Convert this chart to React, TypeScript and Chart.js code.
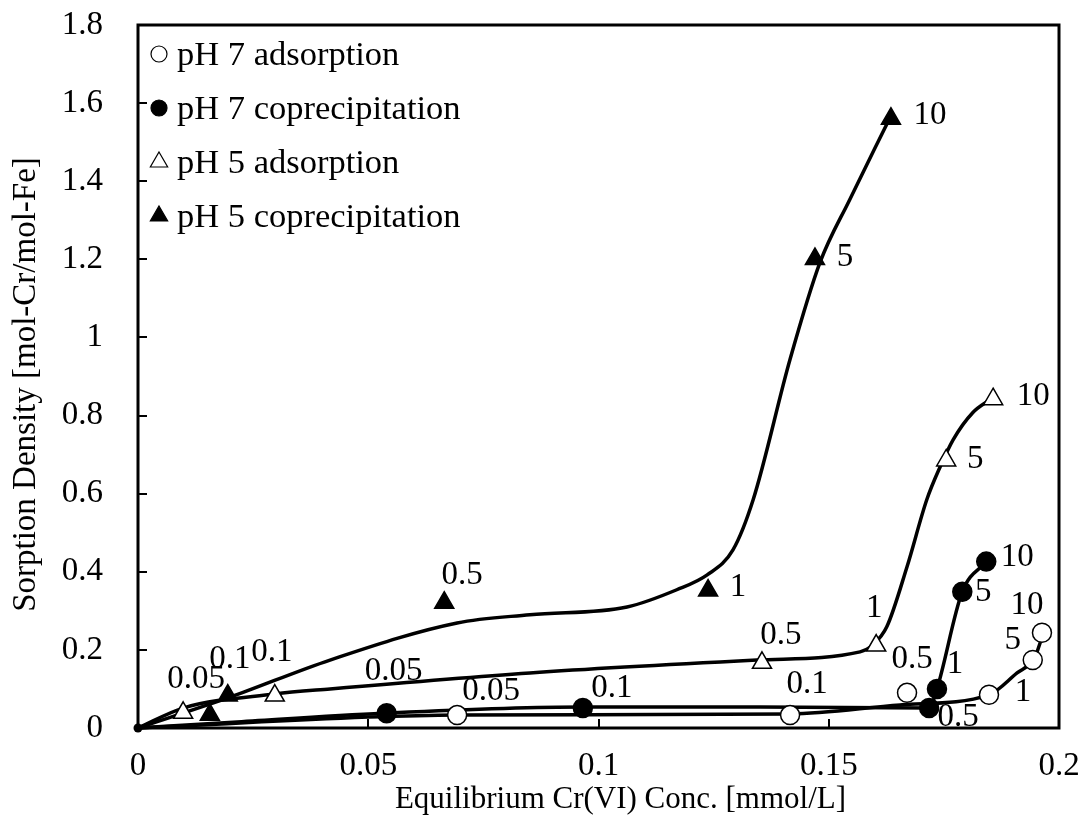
import React, { useEffect, useRef } from "react";
import { Chart, registerables } from "chart.js";

Chart.register(...registerables);

// ---------- axis ticks ----------
const X_TICKS = [0, 0.05, 0.1, 0.15, 0.2];
const X_TICK_LABELS = ["0", "0.05", "0.1", "0.15", "0.2"];
const Y_TICKS = [0, 0.2, 0.4, 0.6, 0.8, 1.0, 1.2, 1.4, 1.6, 1.8];
const Y_TICK_LABELS = ["0", "0.2", "0.4", "0.6", "0.8", "1", "1.2", "1.4", "1.6", "1.8"];

const X_TITLE = "Equilibrium Cr(VI) Conc. [mmol/L]";
const Y_TITLE = "Sorption Density [mol-Cr/mol-Fe]";

const SERIES_NAMES = [
  "pH 7 adsorption",
  "pH 7 coprecipitation",
  "pH 5 adsorption",
  "pH 5 coprecipitation",
];

// ---------- measured points ----------
const PH7_ADS_X = [0.0693, 0.1416, 0.167, 0.1848, 0.1943, 0.1963];
const PH7_ADS_Y = [0.033, 0.033, 0.09, 0.085, 0.174, 0.244];
const PH7_ADS_LABELS = ["0.05", "0.1", "0.5", "1", "5", "10"];

const PH7_COP_X = [0.054, 0.0966, 0.1718, 0.1735, 0.179, 0.1842];
const PH7_COP_Y = [0.038, 0.051, 0.051, 0.1, 0.349, 0.426];
const PH7_COP_LABELS = ["0.05", "0.1", "0.5", "1", "5", "10"];

const PH5_ADS_X = [0.0098, 0.0297, 0.1355, 0.1603, 0.1755, 0.1857];
const PH5_ADS_Y = [0.039, 0.083, 0.167, 0.211, 0.685, 0.842];
const PH5_ADS_LABELS = ["0.05", "0.1", "0.5", "1", "5", "10"];

const PH5_COP_X = [0.0156, 0.0195, 0.0665, 0.1238, 0.147, 0.1635];
const PH5_COP_Y = [0.034, 0.083, 0.321, 0.352, 1.201, 1.56];
const PH5_COP_LABELS = ["", "0.1", "0.5", "1", "5", "10"];

// ---------- hand-drawn guide curves ----------
const PH7_ADS_CURVE_X = [0, 0.0693, 0.1416, 0.1655, 0.1848, 0.1909, 0.1943, 0.1959, 0.1963];
const PH7_ADS_CURVE_Y = [0, 0.033, 0.036, 0.059, 0.085, 0.141, 0.174, 0.218, 0.244];

const PH7_COP_CURVE_X = [0, 0.0206, 0.0532, 0.0966, 0.1351, 0.1718, 0.1735, 0.179, 0.1842];
const PH7_COP_CURVE_Y = [0, 0.015, 0.038, 0.054, 0.054, 0.051, 0.1, 0.349, 0.426];

const PH5_ADS_CURVE_X = [0, 0.0098, 0.0297, 0.0417, 0.0851, 0.1344, 0.1568, 0.1596, 0.1626, 0.167, 0.1713, 0.1742, 0.177, 0.1813, 0.185];
const PH5_ADS_CURVE_Y = [0, 0.051, 0.087, 0.1, 0.141, 0.174, 0.195, 0.213, 0.259, 0.413, 0.585, 0.669, 0.738, 0.808, 0.841];

const PH5_COP_CURVE_X = [0, 0.02, 0.0417, 0.0693, 0.0851, 0.1062, 0.117, 0.1236, 0.1292, 0.1336, 0.1416, 0.1481, 0.1546, 0.1626];
const PH5_COP_CURVE_Y = [0, 0.079, 0.174, 0.269, 0.29, 0.31, 0.354, 0.392, 0.456, 0.585, 0.944, 1.192, 1.354, 1.546];

// ---------- label placement (pixel offsets from each point) ----------
const PH7_ADS_LABEL_DX = [34, 17, 5, 34, -20, -15];
const PH7_ADS_LABEL_DY = [-24, -31, -34, -2, -20, -27];
const PH7_COP_LABEL_DX = [7, 29, 29, 18, 21, 31];
const PH7_COP_LABEL_DY = [-42, -20, 9, -25, 1, -4];
const PH5_ADS_LABEL_DX = [13, -3, 19, -2, 29, 40];
const PH5_ADS_LABEL_DY = [-33, -43, -27, -37, -1, -3];
const PH5_COP_LABEL_DX = [0, 2, 18, 30, 30, 39];
const PH5_COP_LABEL_DY = [0, -36, -27, -3, -2, -3];

const FONT = '"Liberation Serif", "Times New Roman", serif';

const pts = (xs: number[], ys: number[]) => xs.map((x, i) => ({ x, y: ys[i] }));

type MarkerSeries = {
  name: string;
  x: number[];
  y: number[];
  labels: string[];
  dx: number[];
  dy: number[];
  style: "circle" | "triangle";
  filled: boolean;
};

const MARKERS: MarkerSeries[] = [
  { name: SERIES_NAMES[0], x: PH7_ADS_X, y: PH7_ADS_Y, labels: PH7_ADS_LABELS, dx: PH7_ADS_LABEL_DX, dy: PH7_ADS_LABEL_DY, style: "circle", filled: false },
  { name: SERIES_NAMES[1], x: PH7_COP_X, y: PH7_COP_Y, labels: PH7_COP_LABELS, dx: PH7_COP_LABEL_DX, dy: PH7_COP_LABEL_DY, style: "circle", filled: true },
  { name: SERIES_NAMES[2], x: PH5_ADS_X, y: PH5_ADS_Y, labels: PH5_ADS_LABELS, dx: PH5_ADS_LABEL_DX, dy: PH5_ADS_LABEL_DY, style: "triangle", filled: false },
  { name: SERIES_NAMES[3], x: PH5_COP_X, y: PH5_COP_Y, labels: PH5_COP_LABELS, dx: PH5_COP_LABEL_DX, dy: PH5_COP_LABEL_DY, style: "triangle", filled: true },
];

const decorPlugin = {
  id: "decor",
  afterDatasetsDraw(chart: any) {
    const { ctx, chartArea, scales } = chart;
    const xs = scales.x;
    const ys = scales.y;
    ctx.save();
    // point labels
    ctx.fillStyle = "#000";
    ctx.font = `33px ${FONT}`;
    ctx.textAlign = "center";
    ctx.textBaseline = "middle";
    MARKERS.forEach((s) => {
      s.x.forEach((xv, i) => {
        const t = s.labels[i];
        if (!t) return;
        ctx.fillText(t, xs.getPixelForValue(xv) + s.dx[i], ys.getPixelForValue(s.y[i]) + s.dy[i]);
      });
    });
    // frame
    ctx.strokeStyle = "#000";
    ctx.lineWidth = 3;
    ctx.strokeRect(chartArea.left, chartArea.top, chartArea.right - chartArea.left, chartArea.bottom - chartArea.top);
    // inward ticks
    ctx.lineWidth = 2;
    ctx.beginPath();
    Y_TICKS.forEach((v) => {
      const py = Math.round(ys.getPixelForValue(v));
      ctx.moveTo(chartArea.left, py);
      ctx.lineTo(chartArea.left + 9, py);
    });
    X_TICKS.forEach((v) => {
      const px = Math.round(xs.getPixelForValue(v));
      ctx.moveTo(px, chartArea.bottom);
      ctx.lineTo(px, chartArea.bottom - 9);
    });
    ctx.stroke();
    // axis titles
    ctx.font = `31px ${FONT}`;
    ctx.textAlign = "center";
    ctx.textBaseline = "middle";
    ctx.fillText(X_TITLE, (chartArea.left + chartArea.right) / 2 + 22, chartArea.bottom + 72);
    ctx.save();
    ctx.font = `33px ${FONT}`;
    ctx.translate(26, (chartArea.top + chartArea.bottom) / 2 + 8);
    ctx.rotate(-Math.PI / 2);
    ctx.fillText(Y_TITLE, 0, 0);
    ctx.restore();
    // legend
    ctx.font = `34.5px ${FONT}`;
    ctx.textAlign = "left";
    ctx.textBaseline = "alphabetic";
    MARKERS.forEach((s, i) => {
      const base = chartArea.top + 40 + i * 54;
      const cx = chartArea.left + 21;
      const cy = base - 11;
      ctx.beginPath();
      if (s.style === "circle") {
        ctx.arc(cx, cy, 8, 0, Math.PI * 2);
      } else {
        const r = 10;
        ctx.moveTo(cx, cy - r);
        ctx.lineTo(cx + r * 0.866, cy + r * 0.5);
        ctx.lineTo(cx - r * 0.866, cy + r * 0.5);
        ctx.closePath();
      }
      ctx.fillStyle = s.filled ? "#000" : "#fff";
      ctx.fill();
      ctx.lineWidth = 1.2;
      ctx.strokeStyle = "#000";
      ctx.stroke();
      ctx.fillStyle = "#000";
      ctx.fillText(s.name, chartArea.left + 39, base);
    });
    ctx.restore();
  },
};

const zeroPad = (axis: any) => {
  axis.paddingLeft = 0;
  axis.paddingRight = 0;
  axis.paddingTop = 0;
  axis.paddingBottom = 0;
};

export default function App() {
  const ref = useRef<HTMLCanvasElement | null>(null);

  useEffect(() => {
    if (!ref.current) return;
    const curve = (xs: number[], ys: number[], origin = false) => ({
      data: pts(xs, ys),
      showLine: true,
      borderColor: "#000",
      borderWidth: 3.5,
      backgroundColor: "#000",
      pointRadius: origin ? (c: any) => (c.dataIndex === 0 ? 4.5 : 0) : 0,
      pointBorderWidth: 0,
      pointBackgroundColor: "#000",
      cubicInterpolationMode: "monotone" as const,
      fill: false,
      clip: false as any,
    });
    const marker = (s: MarkerSeries) => ({
      label: s.name,
      data: pts(s.x, s.y),
      showLine: false,
      pointStyle: s.style,
      pointRadius: s.style === "circle" ? 9.5 : 11,
      pointBackgroundColor: s.filled ? "#000" : "#fff",
      pointBorderColor: "#000",
      pointBorderWidth: 1.5,
      clip: false as any,
    });

    const chart = new Chart(ref.current, {
      type: "scatter",
      data: {
        datasets: [
          ...MARKERS.map(marker),
          curve(PH7_ADS_CURVE_X, PH7_ADS_CURVE_Y, true),
          curve(PH7_COP_CURVE_X, PH7_COP_CURVE_Y),
          curve(PH5_ADS_CURVE_X, PH5_ADS_CURVE_Y),
          curve(PH5_COP_CURVE_X, PH5_COP_CURVE_Y),
        ] as any,
      },
      options: {
        responsive: false,
        animation: false,
        devicePixelRatio: 1,
        layout: { padding: { left: 0, right: 25, top: 25, bottom: 0 } },
        plugins: { legend: { display: false }, tooltip: { enabled: false } },
        events: [],
        scales: {
          x: {
            type: "linear",
            min: 0,
            max: 0.2,
            grid: { display: false, drawTicks: false },
            border: { display: false },
            afterBuildTicks: (axis: any) => {
              axis.ticks = X_TICKS.map((v) => ({ value: v }));
            },
            afterFit: (axis: any) => {
              axis.height = 111;
              zeroPad(axis);
            },
            ticks: {
              color: "#000",
              padding: 19,
              font: { family: FONT, size: 33 },
              maxRotation: 0,
              autoSkip: false,
              callback: (_v: any, i: number) => X_TICK_LABELS[i],
            },
            title: { display: false },
          },
          y: {
            type: "linear",
            min: 0,
            max: 1.8,
            grid: { display: false, drawTicks: false },
            border: { display: false },
            afterBuildTicks: (axis: any) => {
              axis.ticks = Y_TICKS.map((v) => ({ value: v }));
            },
            afterFit: (axis: any) => {
              axis.width = 138;
              zeroPad(axis);
            },
            ticks: {
              color: "#000",
              padding: 35,
              autoSkip: false,
              font: { family: FONT, size: 33 },
              callback: (_v: any, i: number) => Y_TICK_LABELS[i],
            },
            title: { display: false },
          },
        },
      },
      plugins: [decorPlugin],
    });
    return () => chart.destroy();
  }, []);

  return (
    <div style={{ position: "absolute", left: 0, top: 0, width: 1084, height: 839, background: "#fff" }}>
      <canvas ref={ref} width={1084} height={839} style={{ display: "block" }} />
    </div>
  );
}
